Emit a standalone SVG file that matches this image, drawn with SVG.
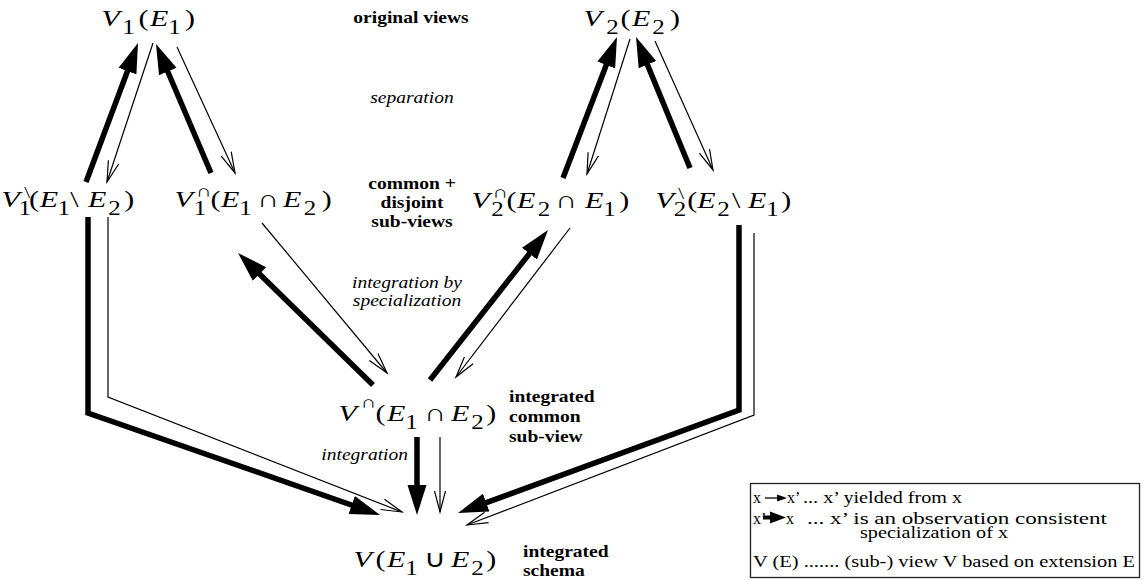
<svg xmlns="http://www.w3.org/2000/svg" width="1144" height="580" viewBox="0 0 1144 580">
<style>
.m{font-family:"Liberation Serif","Times New Roman",serif;font-size:24px;fill:#000}
.it{font-style:italic}
.s{font-size:20px}
.p{font-size:17px}
.pb{font-size:17px}
.lb{font-family:"Liberation Serif","Times New Roman",serif;font-size:16px;font-weight:bold;fill:#000}
.li{font-family:"Liberation Serif","Times New Roman",serif;font-size:16px;font-style:italic;fill:#000}
.lg{font-family:"Liberation Serif","Times New Roman",serif;font-size:16px;fill:#000}
.thick{fill:none;stroke:#000;stroke-width:5.5;stroke-linejoin:miter}
.thin{fill:none;stroke:#000;stroke-width:1.2}
</style>
<defs>
<marker id="hT" markerUnits="userSpaceOnUse" markerWidth="32" markerHeight="22" viewBox="0 0 32 22" refX="18" refY="11" orient="auto"><path d="M0,1.5 L30,11 L0,20.5 Z" fill="#000"/></marker>
<marker id="hO" markerUnits="userSpaceOnUse" markerWidth="24" markerHeight="16" viewBox="0 0 24 16" refX="21" refY="8" orient="auto"><path d="M0,2.5 L21,8 L0,13.5" fill="none" stroke="#000" stroke-width="1.2"/></marker>
</defs>
<rect width="1144" height="580" fill="#fff"/>

<g id="connectors">
<path class="thick" d="M86,182 L133.8,54.2" marker-end="url(#hT)"/>
<path class="thick" d="M211,173 L160.7,55" marker-end="url(#hT)"/>
<path class="thick" d="M563,178 L612.7,48.2" marker-end="url(#hT)"/>
<path class="thick" d="M690,168 L640.6,48.1" marker-end="url(#hT)"/>
<path class="thick" d="M373,385 L246.6,261.4" marker-end="url(#hT)"/>
<path class="thick" d="M430,380 L540.6,239.4" marker-end="url(#hT)"/>
<path class="thick" d="M88,217 L88,413 L368.7,511" marker-end="url(#hT)"/>
<path class="thick" d="M417,437 L417,503" marker-end="url(#hT)"/>
<path class="thick" d="M739,225 L739,410 L469.3,508.9" marker-end="url(#hT)"/>
<path class="thin" d="M153,43 L107,182" marker-end="url(#hO)"/>
<path class="thin" d="M177,47 L235,173" marker-end="url(#hO)"/>
<path class="thin" d="M630,39 L587,174" marker-end="url(#hO)"/>
<path class="thin" d="M655,41 L713,170" marker-end="url(#hO)"/>
<path class="thin" d="M262,223 L387,373" marker-end="url(#hO)"/>
<path class="thin" d="M570,228 L456,377" marker-end="url(#hO)"/>
<path class="thin" d="M108,217 L108,397 L402,512" marker-end="url(#hO)"/>
<path class="thin" d="M440,437 L440,512" marker-end="url(#hO)"/>
<path class="thin" d="M754,233 L754,415 L467,525" marker-end="url(#hO)"/>
</g>

<g id="node-v1">
<text class="m" transform="translate(101.5,26) scale(1.25,1)"><tspan class="it" x="0" y="0">V</tspan><tspan class="s" x="16.6" y="8">1</tspan><tspan x="29.7" y="0">(</tspan><tspan class="it" x="38.8" y="0">E</tspan><tspan class="s" x="53.4" y="8">1</tspan><tspan x="66.8" y="0">)</tspan></text>
</g>
<g id="node-v2">
<text class="m" transform="translate(583.5,26) scale(1.25,1)"><tspan class="it" x="0" y="0">V</tspan><tspan class="s" x="18.2" y="8">2</tspan><tspan x="29.7" y="0">(</tspan><tspan class="it" x="38.8" y="0">E</tspan><tspan class="s" x="55" y="8">2</tspan><tspan x="69.2" y="0">)</tspan></text>
</g>
<g id="node-v1-diff">
<text class="m" transform="translate(1.5,207) scale(1.25,1)"><tspan class="it" x="0" y="0">V</tspan><tspan class="pb" x="18.2" y="-9">\</tspan><tspan class="s" x="13.6" y="8">1</tspan><tspan x="22" y="0">(</tspan><tspan class="it" x="30.6" y="0">E</tspan><tspan class="s" x="44.8" y="8">1</tspan><tspan x="55" y="0">\</tspan><tspan class="it" x="69.2" y="0">E</tspan><tspan class="s" x="85.4" y="8">2</tspan><tspan x="98.2" y="0">)</tspan></text>
</g>
<g id="node-v1-common">
<text class="m" transform="translate(174.5,207) scale(1.25,1)"><tspan class="it" x="0" y="0">V</tspan><tspan class="p" x="17.4" y="-10">∩</tspan><tspan class="s" x="15.4" y="8">1</tspan><tspan x="28.9" y="0">(</tspan><tspan class="it" x="37.2" y="0">E</tspan><tspan class="s" x="51.8" y="8">1</tspan><tspan x="66.4" y="0">∩</tspan><tspan class="it" x="86.8" y="0">E</tspan><tspan class="s" x="103.4" y="8">2</tspan><tspan x="117.8" y="0">)</tspan></text>
</g>
<g id="node-v2-common">
<text class="m" transform="translate(471.5,208) scale(1.25,1)"><tspan class="it" x="0" y="0">V</tspan><tspan class="p" x="17" y="-10">∩</tspan><tspan class="s" x="15.8" y="8">2</tspan><tspan x="28.1" y="0">(</tspan><tspan class="it" x="36.4" y="0">E</tspan><tspan class="s" x="53" y="8">2</tspan><tspan x="67.2" y="0">∩</tspan><tspan class="it" x="90.8" y="0">E</tspan><tspan class="s" x="105.4" y="8">1</tspan><tspan x="118.2" y="0">)</tspan></text>
</g>
<g id="node-v2-diff">
<text class="m" transform="translate(655.5,208) scale(1.25,1)"><tspan class="it" x="0" y="0">V</tspan><tspan class="pb" x="18.2" y="-9">\</tspan><tspan class="s" x="14.6" y="8">2</tspan><tspan x="25.4" y="0">(</tspan><tspan class="it" x="33.4" y="0">E</tspan><tspan class="s" x="49.4" y="8">2</tspan><tspan x="61.2" y="0">\</tspan><tspan class="it" x="74" y="0">E</tspan><tspan class="s" x="88.6" y="8">1</tspan><tspan x="100.6" y="0">)</tspan></text>
</g>
<g id="node-v-common">
<text class="m" transform="translate(338.5,421) scale(1.25,1)"><tspan class="it" x="0" y="0">V</tspan><tspan class="p" x="18" y="-13">∩</tspan><tspan x="29.7" y="0">(</tspan><tspan class="it" x="38.8" y="0">E</tspan><tspan class="s" x="53.4" y="8">1</tspan><tspan x="68.8" y="0">∩</tspan><tspan class="it" x="90" y="0">E</tspan><tspan class="s" x="106.2" y="8">2</tspan><tspan x="118.2" y="0">)</tspan></text>
</g>
<g id="node-v-union">
<text class="m" transform="translate(353.5,567) scale(1.25,1)"><tspan class="it" x="0" y="0">V</tspan><tspan x="17.7" y="0">(</tspan><tspan class="it" x="26.8" y="0">E</tspan><tspan class="s" x="41.4" y="8">1</tspan><tspan x="56.8" y="0">∪</tspan><tspan class="it" x="78" y="0">E</tspan><tspan class="s" x="94.2" y="8">2</tspan><tspan x="106.2" y="0">)</tspan></text>
</g>

<g id="labels">
<text class="lb" text-anchor="middle" transform="translate(411,23) scale(1.22,1)">original views</text>
<text class="li" text-anchor="middle" transform="translate(412,103) scale(1.22,1)">separation</text>
<text class="lb" text-anchor="middle" transform="translate(412,189) scale(1.22,1)">common +</text>
<text class="lb" text-anchor="middle" transform="translate(412,208) scale(1.22,1)">disjoint</text>
<text class="lb" text-anchor="middle" transform="translate(412,227) scale(1.22,1)">sub-views</text>
<text class="li" text-anchor="middle" transform="translate(407,288) scale(1.22,1)">integration by</text>
<text class="li" text-anchor="middle" transform="translate(407,306) scale(1.22,1)">specialization</text>
<text class="li" text-anchor="end" transform="translate(408,460) scale(1.22,1)">integration</text>
<text class="lb" transform="translate(509,402) scale(1.22,1)">integrated</text>
<text class="lb" transform="translate(509,422) scale(1.22,1)">common</text>
<text class="lb" transform="translate(509,442) scale(1.22,1)">sub-view</text>
<text class="lb" transform="translate(523,557) scale(1.22,1)">integrated</text>
<text class="lb" transform="translate(523,576) scale(1.22,1)">schema</text>
</g>

<g id="legend">
<rect x="750.5" y="483.5" width="389" height="94" fill="#fff" stroke="#222" stroke-width="1.3"/>
<text class="lg" x="753" y="503">x</text>
<line x1="765" y1="498" x2="779" y2="498" stroke="#000" stroke-width="1.3"/>
<path d="M787,498 L777,494.5 L777,501.5 Z" fill="#000"/>
<text class="lg" x="787" y="503">x’</text>
<text class="lg" x="803" y="503" textLength="159" lengthAdjust="spacingAndGlyphs">... x’ yielded from x</text>
<text class="lg" x="753" y="524">x’</text>
<line x1="763" y1="517.5" x2="772" y2="517.5" stroke="#000" stroke-width="4"/>
<path d="M786,517.5 L770,511.5 L770,523.5 Z" fill="#000"/>
<text class="lg" x="786" y="524">x</text>
<text class="lg" x="807" y="524" textLength="300" lengthAdjust="spacingAndGlyphs">... x’ is an observation consistent</text>
<text class="lg" x="860" y="538" textLength="148" lengthAdjust="spacingAndGlyphs">specialization of x</text>
<text class="lg" x="753" y="567" textLength="382" lengthAdjust="spacingAndGlyphs">V (E) ....... (sub-) view V based on extension E</text>
</g>
</svg>
